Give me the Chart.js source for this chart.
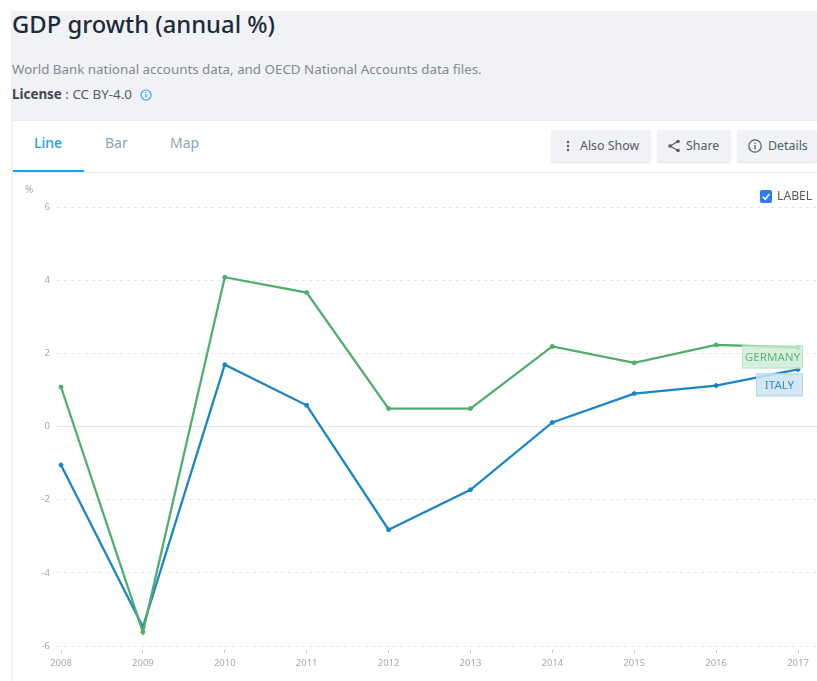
<!DOCTYPE html>
<html lang="en">

<head>
    <meta charset="UTF-8">
    <title>GDP growth (annual %)</title>
    <script src="https://cdn.jsdelivr.net/npm/chart.js"></script>
    <style>
        html, body { margin: 0; padding: 0; background: #fff; overflow: hidden; }
        body { width: 817px; height: 681px; position: relative; font-family: "Noto Sans", sans-serif; }
        .panel { position: absolute; left: 11px; top: 11px; width: 806px; height: 670px; background: #f0f2f6; }
        .abs { position: absolute; white-space: nowrap; line-height: 1; }
        h1 { margin: 0; left: 12px; top: 13px; font-size: 23.8px; font-weight: 500; color: #1c2b36; line-height: 28px; }
        .source { left: 12px; top: 63px; font-size: 13.35px; color: #85898e; }
        .license { left: 12px; top: 88px; font-size: 13.4px; color: #555b60; }
        .license b { color: #42484d; }
        .card { position: absolute; left: 13px; top: 120px; width: 804px; height: 561px; background: #fff; border-top: 1px solid #e8ecf2; box-sizing: border-box; }
        .tabline { position: absolute; left: 13px; top: 172px; width: 804px; height: 1px; background: #e6ebf2; }
        .tabon { position: absolute; left: 13px; top: 170px; width: 71px; height: 2px; background: #12a5f5; }
        .tab { top: 136px; font-size: 14px; color: #8ca5b5; }
        .btn { position: absolute; top: 130px; height: 32px; background: #f0f2f6; box-shadow: 0 1px 1px #dfe3e9; border-radius: 2px; font-size: 12.4px; color: #555b60; line-height: 31px; box-sizing: border-box; white-space: nowrap; }
        .btn svg { position: absolute; top: 8px; }
        .btn span { position: absolute; top: 0; }
        .check { position: absolute; left: 760px; top: 190px; width: 12px; height: 13px; background: #2f7bf6; border-radius: 2px; }
        #grafico { position: absolute; left: 13px; top: 173px; }
    </style>
</head>

<body>
    <div class="panel"></div>
    <h1 class="abs">GDP growth (annual %)</h1>
    <div class="abs source">World Bank national accounts data, and OECD National Accounts data files.</div>
    <div class="abs license"><b>License</b> : CC BY-4.0</div>
    <svg class="abs" style="left:140px;top:89px" width="12" height="12" viewBox="0 0 12 12">
        <circle cx="6" cy="6" r="5" fill="none" stroke="#3aa5ee" stroke-width="1.2" />
        <rect x="5.4" y="5" width="1.2" height="3.6" fill="#3aa5ee" />
        <rect x="5.4" y="3" width="1.2" height="1.2" fill="#3aa5ee" />
    </svg>

    <div class="card"></div>
    <div class="tabline"></div>
    <div class="tabon"></div>
    <div class="abs tab" style="left:34px;color:#12a5f5;font-weight:500">Line</div>
    <div class="abs tab" style="left:105px">Bar</div>
    <div class="abs tab" style="left:170px">Map</div>

    <div class="btn" style="left:551px;width:100px">
        <svg style="left:14px" width="6" height="16" viewBox="0 0 6 16">
            <circle cx="3" cy="4" r="1.2" fill="#555b60" />
            <circle cx="3" cy="8" r="1.2" fill="#555b60" />
            <circle cx="3" cy="12" r="1.2" fill="#555b60" />
        </svg>
        <span style="left:29px">Also Show</span>
    </div>
    <div class="btn" style="left:657px;width:74px">
        <svg style="left:10px" width="14" height="16" viewBox="0 0 14 16">
            <path d="M11 3.5 L3 8 L11 12.5" fill="none" stroke="#555b60" stroke-width="1.2" />
            <circle cx="11" cy="3.5" r="1.8" fill="#555b60" />
            <circle cx="3" cy="8" r="1.8" fill="#555b60" />
            <circle cx="11" cy="12.5" r="1.8" fill="#555b60" />
        </svg>
        <span style="left:29px">Share</span>
    </div>
    <div class="btn" style="left:737px;width:80px">
        <svg style="left:10px" width="16" height="16" viewBox="0 0 16 16">
            <circle cx="8" cy="8" r="6.2" fill="none" stroke="#555b60" stroke-width="1.2" />
            <rect x="7.4" y="7" width="1.3" height="4.4" fill="#555b60" />
            <rect x="7.4" y="4.6" width="1.3" height="1.3" fill="#555b60" />
        </svg>
        <span style="left:31px">Details</span>
    </div>

    <canvas id="grafico" width="804" height="508"></canvas>

    <div class="check">
        <svg width="12" height="13" viewBox="0 0 12 13" style="display:block">
            <path d="M2.8 6.8 L5.2 9.2 L9.4 4" fill="none" stroke="#fff" stroke-width="1.6" />
        </svg>
    </div>
    <div class="abs" style="left:777px;top:190px;font-size:12.2px;color:#555b60">LABEL</div>

    <script>
        const anos = [2008, 2009, 2010, 2011, 2012, 2013, 2014, 2015, 2016, 2017];
        const germany = [1.08, -5.62, 4.08, 3.66, 0.49, 0.49, 2.19, 1.74, 2.23, 2.16];
        const italy = [-1.05, -5.48, 1.69, 0.58, -2.82, -1.73, 0.11, 0.90, 1.12, 1.56];
        const yTicks = [-6, -4, -2, 0, 2, 4, 6];

        function pontos(valores) {
            return valores.map(function (v, i) { return { x: anos[i], y: v }; });
        }

        // caixinhas com o nome de cada serie, presas no ultimo ponto
        const etiquetas = {
            id: 'etiquetas',
            afterDatasetsDraw: function (chart) {
                const ctx = chart.ctx;
                ctx.save();
                ctx.font = '11.6px "Noto Sans", sans-serif';
                ctx.textAlign = 'center';
                ctx.textBaseline = 'middle';
                chart.data.datasets.forEach(function (ds, i) {
                    const p = chart.getDatasetMeta(i).data[ds.data.length - 1];
                    const larg = ds.boxWidth;
                    const x = p.x + 5 - larg;
                    const y = p.y + ds.boxOffset;
                    ctx.fillStyle = ds.boxFill;
                    ctx.strokeStyle = ds.boxLine;
                    ctx.lineWidth = 1;
                    ctx.fillRect(x, y, larg, 23);
                    ctx.strokeRect(x + 0.5, y + 0.5, larg - 1, 22);
                    ctx.fillStyle = ds.boxText;
                    ctx.fillText(ds.label, x + larg / 2, y + 12);
                });
                // unidade do eixo y
                ctx.font = '10px "Noto Sans", sans-serif';
                ctx.fillStyle = '#a8a8a8';
                ctx.textAlign = 'left';
                ctx.fillText('%', 12, 17);
                ctx.restore();
            }
        };

        new Chart(document.getElementById('grafico'), {
            type: 'line',
            plugins: [etiquetas],
            data: {
                datasets: [
                    {
                        label: 'GERMANY',
                        data: pontos(germany),
                        borderColor: '#4fae6c',
                        pointBackgroundColor: '#4fae6c',
                        boxWidth: 61, boxOffset: -2,
                        boxFill: 'rgba(205,236,212,0.8)', boxLine: '#bde3c7', boxText: '#62b57c'
                    },
                    {
                        label: 'ITALY',
                        data: pontos(italy),
                        borderColor: '#1a86c4',
                        pointBackgroundColor: '#1a86c4',
                        boxWidth: 47, boxOffset: 4,
                        boxFill: 'rgba(205,227,243,0.85)', boxLine: '#b2d5ec', boxText: '#3d8cc4'
                    }
                ]
            },
            options: {
                responsive: false,
                animation: false,
                // sem isso o chart guarda uns pixels na direita por causa dos pontos
                layout: { autoPadding: false, padding: { top: 34, left: 0, right: 0, bottom: 0 } },
                plugins: { legend: { display: false }, tooltip: { enabled: false } },
                elements: {
                    line: { borderWidth: 2.3, tension: 0 },
                    point: { radius: 2, borderColor: '#fff', borderWidth: 1 }
                },
                scales: {
                    x: {
                        type: 'linear',
                        min: 2007.951,
                        max: 2017.232,
                        afterBuildTicks: function (scale) {
                            scale.ticks = anos.map(function (a) { return { value: a }; });
                        },
                        afterFit: function (scale) {
                            scale.height = 35;
                            scale.paddingLeft = 0;
                            scale.paddingRight = 0;
                        },
                        grid: { drawOnChartArea: false, tickLength: 10, tickColor: '#c8c8c8', tickBorderDash: [0, 4, 3, 20] },
                        border: { display: false },
                        ticks: {
                            autoSkip: false, maxRotation: 0, padding: 2,
                            color: '#a8a8a8',
                            font: { family: '"Noto Sans", sans-serif', size: 9.5 },
                            callback: function (v) { return String(v); }
                        }
                    },
                    y: {
                        min: -6,
                        max: 6,
                        afterBuildTicks: function (scale) {
                            scale.ticks = yTicks.map(function (v) { return { value: v }; });
                        },
                        afterFit: function (scale) {
                            scale.width = 44;
                            scale.paddingTop = 0;
                            scale.paddingBottom = 0;
                        },
                        grid: { color: '#e4e4e4', tickLength: 0 },
                        border: {
                            display: false,
                            dash: function (c) { return c.tick && c.tick.value === 0 ? [] : [3, 4]; }
                        },
                        ticks: {
                            padding: 7,
                            color: '#a8a8a8',
                            font: { family: '"Noto Sans", sans-serif', size: 9.5 }
                        }
                    }
                }
            }
        });
    </script>
</body>

</html>
